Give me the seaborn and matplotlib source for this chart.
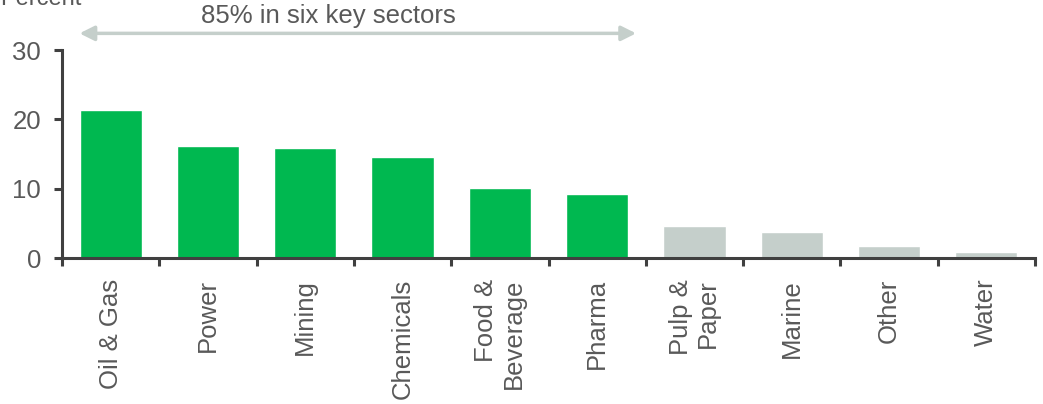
import matplotlib
matplotlib.use("Agg")
import matplotlib.pyplot as plt
import seaborn as sns
import pandas as pd

categories = ["Oil & Gas", "Power", "Mining", "Chemicals", "Food &\nBeverage",
              "Pharma", "Pulp &\nPaper", "Marine", "Other", "Water"]
values = [21.3, 16.1, 15.8, 14.5, 10.1, 9.2, 4.6, 3.7, 1.7, 0.9]
groups = ["Key"] * 6 + ["Rest"] * 4
yticks = [0, 10, 20, 30]
annotation = "85% in six key sectors"
ylabel = "Percent"

sns.set_theme(style="white")
plt.rcParams["font.family"] = ["Liberation Sans", "DejaVu Sans"]

GREEN = "#00B850"
GREY = "#C5CFCB"
TEXT = "#595959"
AX = "#404040"

df = pd.DataFrame({"cat": categories, "val": values, "grp": groups})

fig = plt.figure(figsize=(10.43, 4.04), dpi=100)
ax = fig.add_axes([62 / 1043, 1 - 258 / 404, (1035 - 62) / 1043, (258 - 50) / 404])

sns.barplot(data=df, x="cat", y="val", hue="grp", palette={"Key": GREEN, "Rest": GREY},
            dodge=False, width=0.64, legend=False, ax=ax, saturation=1)

ax.set_xlim(-0.5, len(categories) - 0.5)
ax.set_ylim(0, 30)
ax.set_yticks(yticks)
ax.set_xlabel("")
ax.set_ylabel("")

for s in ["top", "right"]:
    ax.spines[s].set_visible(False)
for s in ["left", "bottom"]:
    ax.spines[s].set_color(AX)
    ax.spines[s].set_linewidth(2.2)

ax.tick_params(axis="y", direction="out", length=6, width=2.2, color=AX,
               labelsize=18.5, labelcolor=TEXT, pad=9, left=True)
ax.set_xticks(range(len(categories)))
ax.set_xticklabels(categories, rotation=90, ha="center", va="top",
                   multialignment="right")
ax.tick_params(axis="x", which="major", length=0, labelsize=18.5, labelcolor=TEXT, pad=15)
ax.set_xticks([i - 0.5 for i in range(len(categories) + 1)], minor=True)
ax.tick_params(axis="x", which="minor", direction="out", length=6, width=2.2,
               color=AX, bottom=True)

ax.annotate("", xy=(-0.32, 32.4), xytext=(5.4, 32.4), xycoords="data",
            annotation_clip=False,
            arrowprops=dict(arrowstyle="<|-|>", color=GREY, lw=2.5,
                            mutation_scale=22, shrinkA=0, shrinkB=0))
ax.text(2.24, 34.9, annotation, ha="center", va="center", fontsize=18.5,
        color=TEXT, clip_on=False)

fig.text(0.0, 1 + 1 / 404, ylabel, ha="left", va="center", fontsize=17, color=TEXT)

fig.savefig("out.png", dpi=100)
